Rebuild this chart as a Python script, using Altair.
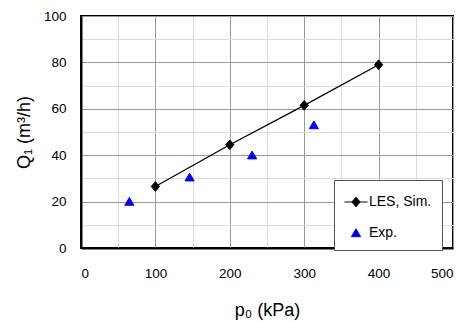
import altair as alt
import pandas as pd

sim_p = [100, 200, 300, 400]
sim_q = [26.5, 44.5, 61.5, 79.0]
exp_p = [65, 146, 230, 313]
exp_q = [20.0, 30.5, 40.0, 53.0]
series_names = ["LES, Sim.", "Exp."]

sim = pd.DataFrame({"p": sim_p, "q": sim_q, "series": series_names[0]})
exp = pd.DataFrame({"p": exp_p, "q": exp_q, "series": series_names[1]})

FONT = "Liberation Sans"
DIAMOND = "M0,-0.42L0.36,0L0,0.42L-0.36,0Z"
LINE_DIAMOND = "M-1,0H1M0,-0.42L0.36,0L0,0.42L-0.36,0Z"
TRIANGLE = "M0,-0.36L0.4,0.32L-0.4,0.32Z"
SYM = 529

major_x = "datum.value % 100 === 0"
major_y = "datum.value % 20 === 0"

xax = alt.Axis(
    values=list(range(0, 501, 50)),
    labelExpr=f"{major_x} ? datum.label : ''",
    title="p₀  (kPa)",
    titleFont=FONT, titleFontSize=18, titleFontWeight="normal", titleColor="black",
    titlePadding=22,
    labelFont=FONT, labelFontSize=13.5, labelColor="black", labelPadding=18,
    gridColor={"condition": {"test": major_x, "value": "#9a9a9a"}, "value": "#dcdcdc"},
    tickSize=0, domainColor="black", domainWidth=2,
)
yax = alt.Axis(
    values=list(range(0, 101, 10)),
    labelExpr=f"{major_y} ? datum.label : ''",
    title="Q₁ (m³/h)",
    titleFont=FONT, titleFontSize=18, titleFontWeight="normal", titleColor="black",
    titlePadding=10,
    labelFont=FONT, labelFontSize=13.5, labelColor="black", labelPadding=15,
    gridColor={"condition": {"test": major_y, "value": "#9a9a9a"}, "value": "#dcdcdc"},
    tickSize=0, domainColor="black", domainWidth=2,
)

x = alt.X("p:Q", scale=alt.Scale(domain=[0, 500], nice=False), axis=xax)
y = alt.Y("q:Q", scale=alt.Scale(domain=[0, 100], nice=False), axis=yax)

line = alt.Chart(sim).mark_line(color="black", strokeWidth=1.3).encode(x=x, y=y)
sim_pts = alt.Chart(sim).mark_point(
    shape=DIAMOND, size=SYM, filled=True, fill="black", stroke="black", strokeWidth=1, opacity=1
).encode(x=x, y=y)

sc_color = alt.Scale(domain=series_names, range=["black", "#0000ff"])
sc_shape = alt.Scale(domain=series_names, range=[LINE_DIAMOND, TRIANGLE])
legend = alt.Legend(
    title=None, orient="none", legendX=253, legendY=164,
    labelFont=FONT, labelFontSize=14, labelColor="black",
    symbolSize=SYM, symbolStrokeWidth=1, symbolOpacity=1,
    strokeColor="#555555", fillColor="white", padding=10, rowPadding=12,
    labelOffset=1, symbolOffset=0,
)
exp_pts = alt.Chart(exp).mark_point(size=SYM, filled=True, strokeWidth=1, opacity=1).encode(
    x=x, y=y,
    shape=alt.Shape("series:N", scale=sc_shape, legend=legend),
    fill=alt.Fill("series:N", scale=sc_color, legend=legend),
    stroke=alt.Stroke("series:N", scale=sc_color, legend=legend),
)

chart = (
    alt.layer(line, sim_pts, exp_pts)
    .properties(
        width=372, height=232,
        padding={"left": 81, "top": 16, "right": 14, "bottom": 74},
        autosize="none",
        background="white",
    )
    .configure_view(stroke="black", strokeWidth=2)
)

chart.save("out.html", embed_options={"renderer": "svg", "actions": False})
